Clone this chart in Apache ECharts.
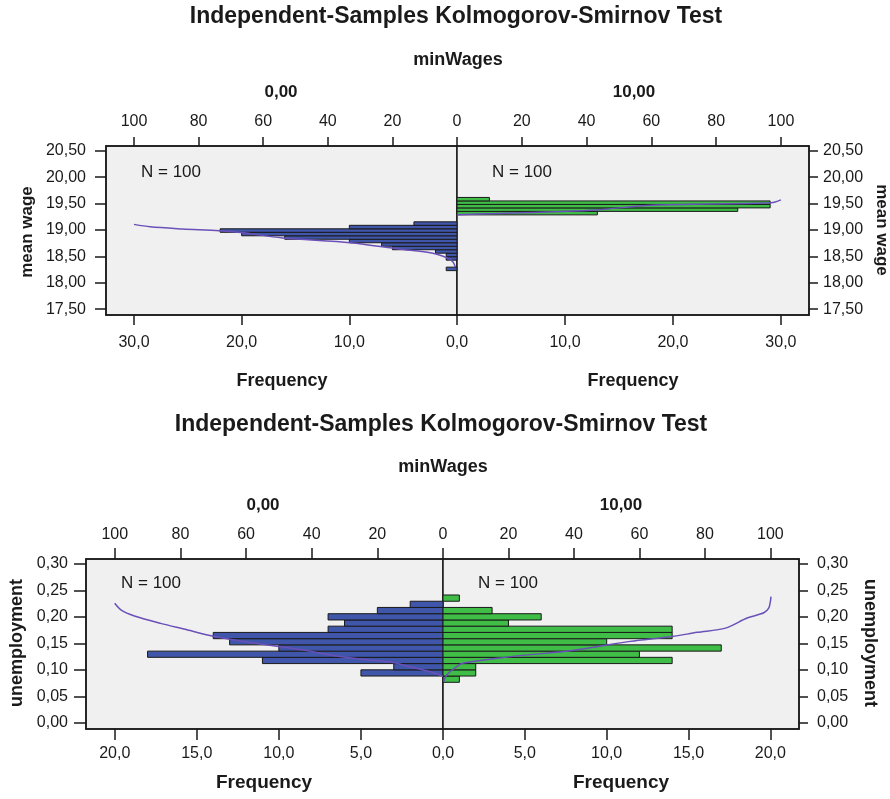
<!DOCTYPE html>
<html>
<head>
<meta charset="utf-8">
<script src="https://cdn.jsdelivr.net/npm/echarts@6/dist/echarts.min.js"></script>
<style>
html, body { margin: 0; padding: 0; background: #fff; }
#main { width: 890px; height: 799px; }
</style>
</head>
<body>
<div id="main"></div>
<script>
// top chart: mean wage, bins (bottom -> top)
var wageEdges = [18.230, 18.296, 18.362, 18.428, 18.494, 18.560, 18.626, 18.692, 18.758, 18.824, 18.890,
                 18.956, 19.022, 19.088, 19.154, 19.220, 19.286, 19.352, 19.418, 19.484, 19.550, 19.616];
var wageFreq0  = [1, 0, 0, 1, 1, 2, 6, 7, 10, 16, 20, 22, 10, 4, 0, 0, 0, 0, 0, 0, 0];
var wageFreq10 = [0, 0, 0, 0, 0, 0, 0, 0, 0, 0, 0, 0, 0, 0, 0, 0, 13, 26, 29, 29, 3];
// cumulative percent curves [percent, mean wage]
var wageCum0  = [[0.5, 18.30], [1.3, 18.40], [3, 18.47], [7.5, 18.56], [18, 18.64], [33, 18.76], [54, 18.85],
                 [67, 18.95], [73.6, 18.985], [85, 19.02], [95, 19.06], [100, 19.106]];
var wageCum10 = [[0, 19.29], [12, 19.31], [43, 19.38], [60, 19.47], [97, 19.515], [100, 19.57]];

// bottom chart: unemployment
var unempEdges = [0.0768, 0.0886, 0.1003, 0.1121, 0.1239, 0.1356, 0.1474, 0.1591, 0.1709, 0.1827,
                  0.1944, 0.2062, 0.2180, 0.2297, 0.2415];
var unempFreq0  = [0, 5, 3, 11, 18, 10, 13, 14, 7, 6, 7, 4, 2, 0];
var unempFreq10 = [1, 2, 2, 14, 12, 17, 10, 14, 14, 4, 6, 3, 0, 1];
var unempCum0  = [[0, 0.088], [2, 0.093], [6, 0.100], [10, 0.106], [16, 0.115], [23, 0.119], [33, 0.127],
                  [43, 0.138], [53.5, 0.147], [64, 0.157], [71, 0.165], [78, 0.176], [86, 0.188],
                  [94, 0.202], [98, 0.213], [100, 0.226]];
var unempCum10 = [[0.2, 0.078], [1.2, 0.091], [4.3, 0.107], [6.3, 0.113], [16.5, 0.122], [26.7, 0.129],
                  [36.9, 0.135], [47, 0.144], [57.2, 0.154], [70, 0.163], [77.6, 0.171], [86.3, 0.179],
                  [92.9, 0.198], [98, 0.208], [99.5, 0.2166], [100, 0.229], [100.2, 0.2385]];

// tick values
var wageTicks = [17.5, 18.0, 18.5, 19.0, 19.5, 20.0, 20.5];
var wageFreqTicks = [0, 10, 20, 30];
var unempTicks = [0, 0.05, 0.10, 0.15, 0.20, 0.25, 0.30];
var unempFreqTicks = [0, 5, 10, 15, 20];
var pctTicks = [0, 20, 40, 60, 80, 100];

var FONT = '"Liberation Sans", Arial, sans-serif';
var INK = '#1a1a1a';
var BLUE = '#3f56aa';
var GREEN = '#3fbd46';
var CURVE = '#6a50b8';

function comma(d) {
	return function (v) { return v.toFixed(d).replace('.', ','); };
}

function binData(edges, freq) {
	var out = [];
	for (var i = 0; i < freq.length; i++) {
		out.push([freq[i], edges[i], edges[i + 1]]);
	}
	return out;
}

function bars(color) {
	return function (params, api) {
		var f = api.value(0);
		if (!f) return;
		var a = api.coord([0, api.value(1)]);
		var b = api.coord([f, api.value(2)]);
		return {
			type: 'rect',
			shape: {
				x: Math.min(a[0], b[0]), y: Math.min(a[1], b[1]),
				width: Math.abs(b[0] - a[0]), height: Math.abs(b[1] - a[1])
			},
			style: { fill: color, stroke: INK, lineWidth: 1 }
		};
	};
}

function xAxis(grid, max, inverse, pos, ticks, labels, fmt, margin, tickLen) {
	return {
		type: 'value', gridIndex: grid, min: 0, max: max, inverse: inverse, position: pos,
		splitLine: { show: false },
		axisLine: { show: true, onZero: false, lineStyle: { color: INK, width: 1.5 } },
		axisTick: { show: true, inside: false, length: tickLen, customValues: ticks, lineStyle: { color: INK, width: 1.5 } },
		axisLabel: { customValues: labels, formatter: fmt, margin: margin, color: INK, fontSize: 16, fontFamily: FONT }
	};
}

function yAxis(grid, min, max, pos, ticks, margin, tickLen) {
	return {
		type: 'value', gridIndex: grid, min: min, max: max, position: pos,
		splitLine: { show: false },
		axisLine: { show: true, onZero: false, lineStyle: { color: INK, width: 1.5 } },
		axisTick: { show: true, length: tickLen, customValues: ticks, lineStyle: { color: INK, width: 1.5 } },
		axisLabel: { customValues: ticks, formatter: comma(2), margin: margin, color: INK, fontSize: 16, fontFamily: FONT }
	};
}

function gridBox(left, top, width, height) {
	return {
		left: left, top: top, width: width, height: height, show: true,
		backgroundColor: '#f0f0f0', borderColor: INK, borderWidth: 1.5
	};
}

function txt(x, y, text, size, bold, rot) {
	return {
		type: 'text', x: x, y: y, rotation: rot || 0, z: 10,
		style: {
			text: text, fill: INK, align: 'center', verticalAlign: 'middle',
			font: (bold ? 'bold ' : '') + size + 'px ' + FONT
		}
	};
}

var wageMax = 32.6, wagePctMax = wageMax / 30 * 100;
var unempMax = 21.75, unempPctMax = unempMax / 20 * 100;
var intFmt = function (v) { return String(Math.round(v)); };

var myChart = echarts.init(document.getElementById('main'));
var option = {
	animation: false,
	backgroundColor: '#fff',
	grid: [
		gridBox(106, 146, 351, 169),
		gridBox(457, 146, 352, 169),
		gridBox(86, 559, 357, 170),
		gridBox(443, 559, 356, 170)
	],
	xAxis: [
		xAxis(0, wageMax, true, 'bottom', wageFreqTicks, [10, 20, 30], comma(1), 20, 10),
		xAxis(0, wagePctMax, true, 'top', pctTicks, [20, 40, 60, 80, 100], intFmt, 16, 9),
		xAxis(1, wageMax, false, 'bottom', wageFreqTicks, wageFreqTicks, comma(1), 20, 10),
		xAxis(1, wagePctMax, false, 'top', pctTicks, pctTicks, intFmt, 16, 9),
		xAxis(2, unempMax, true, 'bottom', unempFreqTicks, [5, 10, 15, 20], comma(1), 17, 11),
		xAxis(2, unempPctMax, true, 'top', pctTicks, [20, 40, 60, 80, 100], intFmt, 16, 11),
		xAxis(3, unempMax, false, 'bottom', unempFreqTicks, unempFreqTicks, comma(1), 17, 11),
		xAxis(3, unempPctMax, false, 'top', pctTicks, pctTicks, intFmt, 16, 11)
	],
	yAxis: [
		yAxis(0, 17.39, 20.59, 'left', wageTicks, 20, 11),
		yAxis(1, 17.39, 20.59, 'right', wageTicks, 14, 9),
		yAxis(2, -0.0113, 0.3094, 'left', unempTicks, 18, 12),
		yAxis(3, -0.0113, 0.3094, 'right', unempTicks, 18, 9)
	],
	series: [
		{ type: 'custom', xAxisIndex: 0, yAxisIndex: 0, renderItem: bars(BLUE), encode: { x: 0, y: [1, 2] }, data: binData(wageEdges, wageFreq0) },
		{ type: 'custom', xAxisIndex: 2, yAxisIndex: 1, renderItem: bars(GREEN), encode: { x: 0, y: [1, 2] }, data: binData(wageEdges, wageFreq10) },
		{ type: 'custom', xAxisIndex: 4, yAxisIndex: 2, renderItem: bars(BLUE), encode: { x: 0, y: [1, 2] }, data: binData(unempEdges, unempFreq0) },
		{ type: 'custom', xAxisIndex: 6, yAxisIndex: 3, renderItem: bars(GREEN), encode: { x: 0, y: [1, 2] }, data: binData(unempEdges, unempFreq10) },
		{ type: 'line', xAxisIndex: 1, yAxisIndex: 0, data: wageCum0, symbol: 'none', smooth: 0.3, z: 5, lineStyle: { color: CURVE, width: 1.5 } },
		{ type: 'line', xAxisIndex: 3, yAxisIndex: 1, data: wageCum10, symbol: 'none', smooth: 0.3, z: 5, lineStyle: { color: CURVE, width: 1.5 } },
		{ type: 'line', xAxisIndex: 5, yAxisIndex: 2, data: unempCum0, symbol: 'none', smooth: 0.3, z: 5, lineStyle: { color: CURVE, width: 1.5 } },
		{ type: 'line', xAxisIndex: 7, yAxisIndex: 3, data: unempCum10, symbol: 'none', smooth: 0.3, z: 5, lineStyle: { color: CURVE, width: 1.5 } }
	],
	graphic: [
		// top chart
		txt(456, 17, 'Independent-Samples Kolmogorov-Smirnov Test', 23, true),
		txt(458, 60, 'minWages', 18, true),
		txt(281, 92, '0,00', 17, true),
		txt(634, 92, '10,00', 17, true),
		txt(171, 172, 'N = 100', 17, false),
		txt(522, 172, 'N = 100', 17, false),
		txt(282, 381, 'Frequency', 18, true),
		txt(633, 381, 'Frequency', 18, true),
		txt(27, 232, 'mean wage', 17, true, Math.PI / 2),
		txt(882, 230, 'mean wage', 17, true, -Math.PI / 2),
		// bottom chart
		txt(441, 425, 'Independent-Samples Kolmogorov-Smirnov Test', 23, true),
		txt(443, 467, 'minWages', 18, true),
		txt(263, 505, '0,00', 17, true),
		txt(621, 505, '10,00', 17, true),
		txt(151, 583, 'N = 100', 17, false),
		txt(508, 583, 'N = 100', 17, false),
		txt(264, 783, 'Frequency', 19, true),
		txt(621, 783, 'Frequency', 19, true),
		txt(17, 643, 'unemployment', 18, true, Math.PI / 2),
		txt(870, 643, 'unemployment', 18, true, -Math.PI / 2)
	]
};
// 使用刚指定的配置项和数据显示图表。
myChart.setOption(option);
</script>
</body>
</html>
